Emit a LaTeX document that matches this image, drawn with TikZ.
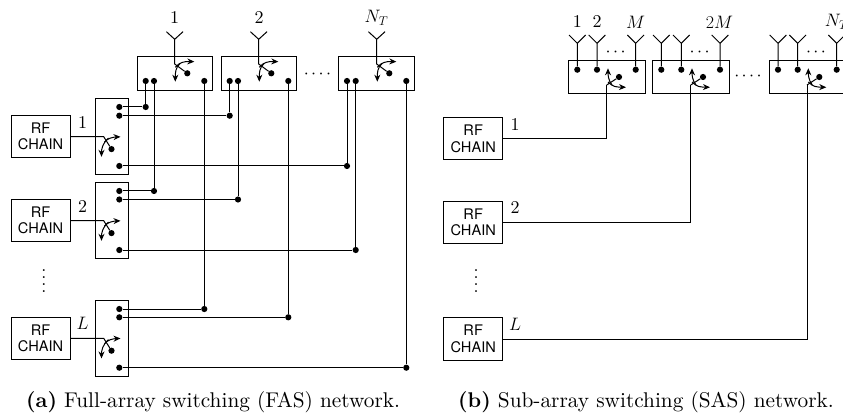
\RequirePackage{fix-cm}
\documentclass[tikz,border=0pt]{standalone}
\usepackage{fontspec}
\setmainfont{lmroman10-regular.otf}[BoldFont=lmroman10-bold.otf]
\newfontfamily\rffont{TeX Gyre Heros}
\usetikzlibrary{arrows.meta}
\tikzset{
  lw/.style={line width=1pt},
  dotn/.style={circle,fill=black,inner sep=0pt,minimum size=6.2pt},
  boxn/.style={draw,lw,inner sep=0pt,fill=none},
  topsw/.style={boxn,minimum width=75.7pt,minimum height=33.6pt},
  leftsw/.style={boxn,minimum width=33.7pt,minimum height=75.6pt},
  subsw/.style={boxn,minimum width=76.7pt,minimum height=33.4pt},
  rfbox/.style={boxn,minimum width=59pt,minimum height=42.4pt,align=center,font=\rffont\fontsize{14.6}{16.5}\selectfont},
  lab/.style={inner sep=0pt,font=\fontsize{18}{21}\selectfont},
  captext/.style={inner sep=0pt,anchor=base west,font=\fontsize{21.3}{26}\selectfont},
  tip/.style={lw,-{Stealth[length=7pt,width=6pt]}},
  wire/.style={lw}
}
\newcommand{\stackdots}{\vbox{\baselineskip6.7pt\lineskiplimit0pt\hbox{.}\hbox{.}\hbox{.}\hbox{.}}}
\newcommand{\threedots}{${\cdot}\mkern2.5mu{\cdot}\mkern2.5mu{\cdot}$}
\newcommand{\fourdots}{${\cdot}\mkern2.5mu{\cdot}\mkern2.5mu{\cdot}\mkern2.5mu{\cdot}$}
% switch glyphs, drawn around the centre dot
\newcommand{\glyphtop}[2]{\begin{scope}[shift={(#1,#2)}]
  \draw[tip] (-12,-6) .. controls (-8,-11) and (-3,-12) .. (7,-11.6);
  \draw[tip] (-7,-10) .. controls (-12,-6) and (-12,0) .. (-12,8.4);
\end{scope}}
\newcommand{\glyphleft}[2]{\begin{scope}[shift={(#1,#2)}]
  \draw[tip] (-7,-7) .. controls (-4,-11) and (2,-12) .. (9,-12.3);
  \draw[tip] (-3,-11) .. controls (-9,-6) and (-10,0) .. (-10,7.7);
\end{scope}}
\newcommand{\glyphsub}[2]{\begin{scope}[shift={(#1,#2)}]
  \draw[tip] (-11,5) .. controls (-6,10) and (-3,10) .. (7,10.3);
  \draw[tip] (-7,8) .. controls (-11,3) and (-11,-3) .. (-11,-8.7);
\end{scope}}
\begin{document}
\begin{tikzpicture}[x=1pt,y=-1pt]
\clip (0,0) rectangle (843,414);
\fill[white] (0,0) rectangle (843,414);

% ---------- (a) top switch boxes
\node[topsw] (ta) at (174.85,73.5) {};
\node[topsw] (tb) at (258.85,73.5) {};
\node[topsw] (tc) at (376.5,73.5) {};
\foreach \n/\xa/\xb/\xc/\xp in {ta/145.7/154/204.3/174.7, tb/229.7/238/288.3/258.7, tc/347/355.7/406.3/376.7}{
  \node[dotn] (\n1) at (\xa,81) {};
  \node[dotn] (\n2) at (\xb,81) {};
  \node[dotn] (\n3) at (\xc,81) {};
  \node[dotn] (\n s) at (\xp+12.6,73.3) {};
  \coordinate (\n p) at (\xp,64);
  \coordinate (\n a) at (\xp,39.3);
  \coordinate (\n al) at (\xp-8.3,31.7);
  \coordinate (\n ar) at (\xp+8.3,31.7);
  \draw[wire] (\n al) -- (\n a) -- (\n ar) (\n a) -- (\n p) -- (\n s);
  \glyphtop{\xp+12.6}{73.3}
}
\node[lab] (la1) at (174.7,17.7) {1};
\node[lab] (la2) at (259,17.7) {2};
\node[lab] (la3) at (376.5,17.7) {$N_T$};
\node[lab] (ld1) at (317.5,74.7) {\fourdots};

% ---------- (a) left switch boxes and RF chains
\foreach \n/\yc/\ya/\yb/\yd/\yw/\yr/\lbl in {
   sa/136.5/107/115.7/166/136.7/136.5/1,
   sb/220.5/191/199.5/250/220.7/220.5/2,
   sc/338.3/309/317.3/367.7/338.3/338.3/$L$}{
  \node[leftsw] (\n) at (111.85,\yc) {};
  \node[dotn] (\n1) at (119.3,\ya) {};
  \node[dotn] (\n2) at (119.3,\yb) {};
  \node[dotn] (\n3) at (119.3,\yd) {};
  \node[dotn] (\n s) at (111.5,\yw+12.4) {};
  \coordinate (\n p) at (103.7,\yw);
  \node[rfbox] (\n r) at (40.5,\yr) {RF\\CHAIN};
  \node[lab] (\n l) at (82.5,\yw-14.5) {\lbl};
  \draw[wire] (\n r.east |- \n p) -- (\n p) -- (\n s);
  \glyphleft{111.5}{\yw+12.4}
}
\node[lab] (lv) at (44,281) {\stackdots};

% ---------- (a) junctions and wiring
\foreach \src/\k/\tgt/\j in {sa/1/ta/1, sa/2/tb/1, sa/3/tc/1,
                         sb/1/ta/2, sb/2/tb/2, sb/3/tc/2,
                         sc/1/ta/3, sc/2/tb/3, sc/3/tc/3}{
  \node[dotn] (j\src\k) at (\tgt\j |- \src\k) {};
  \draw[wire] (\src\k) -- (j\src\k) -- (\tgt\j);
}

% ---------- (b) sub-array boxes
\foreach \n/\xc/\xa/\xb/\xd/\xp/\rfy/\lbl/\yw in {
    ua/606.65/577.3/597/635.7/606.7/138.7/1/138.7,
    ub/690.65/661.3/681.3/720/690.7/222.5/2/222.5,
    uc/807.35/778/797.7/836.7/807/339/$L$/339}{
  \node[subsw] (\n) at (\xc,77) {};
  \node[dotn] (\n1) at (\xa,69.7) {};
  \node[dotn] (\n2) at (\xb,69.7) {};
  \node[dotn] (\n3) at (\xd,69.7) {};
  \foreach \m/\xx in {1/\xa,2/\xb,3/\xd}{
    \coordinate (\n a\m) at (\xx,43.3);
    \coordinate (\n l\m) at (\xx-8.3,35);
    \coordinate (\n r\m) at (\xx+8.3,35);
    \draw[wire] (\n l\m) -- (\n a\m) -- (\n r\m) (\n a\m) -- (\n\m);
  }
  \node[dotn] (\n s) at (\xp+12.3,77) {};
  \coordinate (\n p) at (\xp,85);
  \draw[wire] (\n p) -- (\n s);
  \glyphsub{\xp+12.3}{77}
  \node[lab] (\n d) at (\xp+9,52.7) {\threedots};
  \node[rfbox] (\n f) at (473.2,\rfy) {RF\\CHAIN};
  \node[lab] (\n t) at (515,\yw-14.5) {\lbl};
  \draw[wire] (\n f.east) -| (\n p);
}
\node[lab] (lm1) at (577.3,22) {1};
\node[lab] (lm2) at (597,22) {2};
\node[lab] (lm3) at (635.7,22) {$M$};
\node[lab] (lm4) at (719.5,22) {$2M$};
\node[lab] (lm5) at (836.7,22) {$N_T$};
\node[lab] (ld2) at (748,77) {\fourdots};
\node[lab] (lw) at (476,281) {\stackdots};

% ---------- captions
\node[captext] (ca) at (26,407.5) {\textbf{(a)} Full-array switching (FAS) network.};
\node[captext] (cb) at (458,407.5) {\textbf{(b)} Sub-array switching (SAS) network.};
\end{tikzpicture}
\end{document}
